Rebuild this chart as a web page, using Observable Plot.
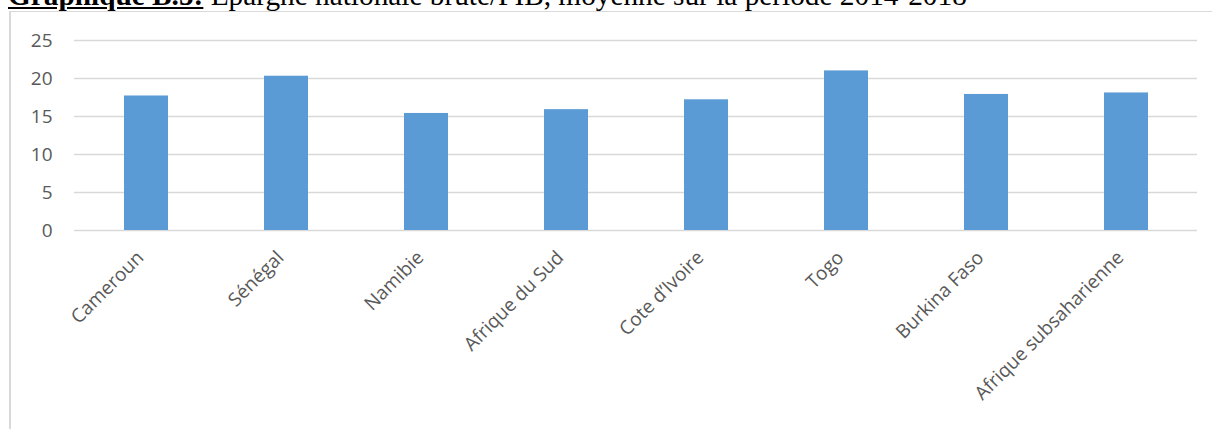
<!DOCTYPE html>
<html><head><meta charset="utf-8">
<script src="https://cdn.jsdelivr.net/npm/d3@7"></script>
<script src="https://cdn.jsdelivr.net/npm/@observablehq/plot@0.6"></script>
<style>
body{margin:0;background:#fff;}
#wrap{position:relative;width:1212px;height:429px;overflow:hidden;}
#title{position:absolute;left:8px;top:-19px;font-family:"Liberation Serif","Times New Roman",serif;font-size:29.3px;line-height:29px;white-space:nowrap;color:#000;}
#title b{text-decoration:underline;}
#frame{position:absolute;left:9px;top:11px;width:1230px;height:440px;border-top:1px solid #d9d9d9;border-left:2px solid #d9d9d9;box-sizing:border-box;}
#chart{position:absolute;left:0;top:0;}
</style></head>
<body><div id="wrap"><div id="frame"></div><div id="chart"></div><div id="title"><b>Graphique B.5:</b> Epargne nationale brute/PIB, moyenne sur la période 2014-2018</div></div>
<script>
const categories = ["Cameroun", "Sénégal", "Namibie", "Afrique du Sud", "Cote d’Ivoire", "Togo", "Burkina Faso", "Afrique subsaharienne"];
const values = [17.7, 20.3, 15.4, 15.9, 17.2, 21.0, 17.9, 18.1];
const yTicks = [0, 5, 10, 15, 20, 25];

const data = categories.map((name, i) => ({name, value: values[i]}));

const chart = Plot.plot({
  width: 1212,
  height: 429,
  marginLeft: 74,
  marginRight: 15,
  marginTop: 40,
  marginBottom: 199,
  style: {fontFamily: "'Open Sans', sans-serif", fontSize: "19px", color: "#595959", background: "transparent"},
  x: {domain: categories, paddingInner: 0.687, paddingOuter: 0.3435, label: null},
  y: {domain: [0, 25], label: null},
  marks: [
    Plot.ruleY(yTicks, {stroke: "#d9d9d9", strokeWidth: 1.5}),
    Plot.barY(data, {x: "name", y: "value", fill: "#5b9bd5"}),
    Plot.axisY({ticks: yTicks, tickSize: 0, tickPadding: 22, label: null, fontSize: 19, fill: "#595959"}),
    Plot.axisX({tickSize: 0, tickRotate: -45, tickPadding: 24, dx: -6, label: null, fontSize: 19, fill: "#595959"})
  ]
});
document.getElementById("chart").appendChild(chart);
</script>
</body></html>
